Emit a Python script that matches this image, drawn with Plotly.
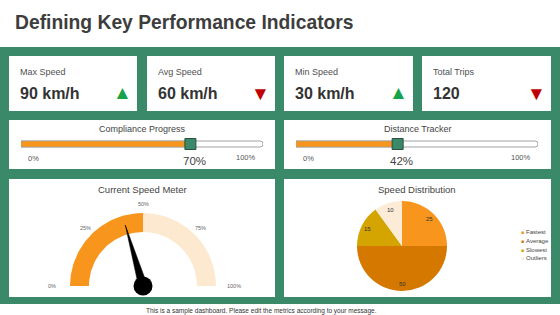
import numpy as np
import plotly.graph_objects as go

W, H = 560, 315

# ---------------- data ----------------
title = "Defining Key Performance Indicators"
kpi_labels = ["Max Speed", "Avg Speed", "Min Speed", "Total Trips"]
kpi_values = ["90 km/h", "60 km/h", "30 km/h", "120"]
kpi_trend = ["up", "down", "up", "down"]

progress_titles = ["Compliance Progress", "Distance Tracker"]
progress_values = [70, 42]

gauge_title = "Current Speed Meter"
gauge_bands = [50, 50]            # filled part, remaining part
gauge_needle = 41
gauge_ticks = [0, 25, 50, 75, 100]

pie_title = "Speed Distribution"
pie_labels = ["Fastest", "Average", "Slowest", "Outliers"]
pie_values = [25, 50, 15, 10]

footer = "This is a sample dashboard. Please edit the metrics according to your message."

# ---------------- style ----------------
GREEN = "#3a8a69"
ORANGE = "#f7951d"
CREAM = "#fde9cf"
pie_colors = ["#f7951d", "#d47800", "#d4a400", "#fcebd7"]
FONT = "Liberation Sans, Arial, sans-serif"
TXT = "#404040"


def px(x):
    return x / W


def py(y):
    return 1 - y / H


fig = go.Figure()
shapes = []
ann = []


def rect(x0, y0, x1, y1, color, line=None):
    shapes.append(dict(type="rect", xref="paper", yref="paper", x0=px(x0), x1=px(x1),
                       y0=py(y1), y1=py(y0), fillcolor=color, layer="below",
                       line=dict(width=0) if line is None else line))


def text(x, y, s, size, color=TXT, anchor="left", bold=False, **kw):
    if bold:
        s = "<b>" + s + "</b>"
    d = dict(x=px(x), y=py(y), xref="paper", yref="paper", text=s, showarrow=False,
             xanchor=anchor, yanchor="middle", font=dict(size=size, color=color, family=FONT))
    d.update(kw)
    ann.append(d)


# background band
rect(0, 47, 560, 304, GREEN)

# title and footer
text(13, 23, title, 19.3, "#3d3d3d", bold=True)
text(261, 311, footer, 6.5, "#333333", anchor="center")

# ---------------- KPI cards ----------------
kpi_x = [(9, 137), (147, 275), (284, 413), (422, 551)]
for (x0, x1), lab, val, tr in zip(kpi_x, kpi_labels, kpi_values, kpi_trend):
    rect(x0, 56, x1, 111, "white")
    text(x0 + 9, 72, lab, 9, "#505050")
    text(x0 + 9, 93, val, 16, "#333333", bold=True)
    if tr == "up":
        text(x1 - 15, 92, "▲", 19, "#17a349", anchor="center")
    else:
        text(x1 - 15, 93, "▼", 19, "#c00000", anchor="center")

# ---------------- progress cards ----------------
prog_cards = [(9, 275), (284, 551)]
prog_bars = [(21, 263), (296, 538)]
for i, ((cx0, cx1), (bx0, bx1), t, v) in enumerate(zip(prog_cards, prog_bars, progress_titles, progress_values)):
    rect(cx0, 120, cx1, 169, "white")
    text((cx0 + cx1) / 2, 129, t, 9, "#444444", anchor="center")
    ax = "" if i == 0 else str(i + 1)
    fig.add_trace(go.Bar(x=[100], y=[0], orientation="h", width=0.5,
                         marker=dict(color="white", line=dict(color="#8a8a8a", width=0.8), cornerradius=3),
                         xaxis="x" + ax, yaxis="y" + ax, showlegend=False, hoverinfo="skip"))
    fig.add_trace(go.Bar(x=[v], y=[0], orientation="h", width=0.5,
                         marker=dict(color=ORANGE, line=dict(color="#a0a0a0", width=0.6), cornerradius=3),
                         xaxis="x" + ax, yaxis="y" + ax, showlegend=False, hoverinfo="skip"))
    fig.add_trace(go.Scatter(x=[v], y=[0], mode="markers", cliponaxis=False,
                             marker=dict(symbol="square", size=11, color="#3a8a6a",
                                         line=dict(color="#2b4f40", width=1)),
                             xaxis="x" + ax, yaxis="y" + ax, showlegend=False, hoverinfo="skip"))
    text(bx0 + 5, 158, "0%", 7.5, "#555555")
    text(bx1 - 5, 157, "100%", 7.5, "#555555", anchor="right")
    ann.append(dict(x=v, xref="x" + ax, y=py(161), yref="paper", text=f"{v}%", showarrow=False,
                    xanchor="center", yanchor="middle", xshift=4,
                    font=dict(size=11.5, color="#444444", family=FONT)))

# ---------------- bottom cards ----------------
rect(9, 179, 275, 297, "white")
rect(284, 179, 551, 297, "white")
text(142, 189, gauge_title, 9.5, "#444444", anchor="center")
text(417, 189, pie_title, 9.5, "#444444", anchor="center")

# gauge
R_OUT, R_IN = 1.0, 0.74
G_CX, G_CY, G_SC = 143, 286, 73   # gauge centre (px) and px per radius unit


def ang(p):
    return np.deg2rad(180 - p * 1.8)


start = 0
for val, col in zip(gauge_bands, [ORANGE, CREAM]):
    t = np.linspace(ang(start), ang(start + val), 60)
    xs = np.concatenate([R_OUT * np.cos(t), R_IN * np.cos(t[::-1])])
    ys = np.concatenate([R_OUT * np.sin(t), R_IN * np.sin(t[::-1])])
    fig.add_trace(go.Scatter(x=xs, y=ys, fill="toself", fillcolor=col, mode="lines",
                             line=dict(width=0, color=col), xaxis="x3", yaxis="y3",
                             showlegend=False, hoverinfo="skip"))
    start += val

a = ang(gauge_needle)
tip = 0.87
hw = 0.06
nx = [tip * np.cos(a), hw * np.cos(a + np.pi / 2), hw * np.cos(a - np.pi / 2), tip * np.cos(a)]
ny = [tip * np.sin(a), hw * np.sin(a + np.pi / 2), hw * np.sin(a - np.pi / 2), tip * np.sin(a)]
fig.add_trace(go.Scatter(x=nx, y=ny, fill="toself", fillcolor="black", mode="lines",
                         line=dict(width=0.5, color="black"), xaxis="x3", yaxis="y3",
                         showlegend=False, hoverinfo="skip"))
fig.add_trace(go.Scatter(x=[0], y=[0], mode="markers", cliponaxis=False,
                         marker=dict(size=19, color="black"), xaxis="x3", yaxis="y3",
                         showlegend=False, hoverinfo="skip"))
for tk in gauge_ticks:
    r = 1.25 if tk in (0, 100) else 1.12
    gx = G_CX + G_SC * r * np.cos(ang(tk))
    gy = G_CY - G_SC * r * np.sin(ang(tk))
    text(gx, gy, f"{tk}%", 5.5, "#666666", anchor="center")

# pie
P_CX, P_CY, P_R = 402, 246, 45
fig.add_trace(go.Pie(labels=pie_labels, values=pie_values, sort=False, direction="clockwise",
                     rotation=0, marker=dict(colors=pie_colors, line=dict(width=0)),
                     textinfo="none",
                     domain=dict(x=[px(P_CX - P_R), px(P_CX + P_R)], y=[py(P_CY + P_R), py(P_CY - P_R)]),
                     showlegend=False, hoverinfo="label+value"))
tot = sum(pie_values)
cum = 0
for v in pie_values:
    mid = np.deg2rad((cum + v / 2) / tot * 360)   # clockwise from 12 o'clock
    cum += v
    lx = P_CX + 0.85 * P_R * np.sin(mid)
    ly = P_CY - 0.85 * P_R * np.cos(mid)
    text(lx, ly, str(v), 6, "#333333", anchor="center")

leg_y = [232, 241, 249.5, 258]
for lab, col, yy in zip(pie_labels, pie_colors, leg_y):
    text(519, yy, "■", 5, col, anchor="left")
    text(524, yy, lab, 6, "#444444", anchor="left")

# ---------------- axes ----------------
hidden = dict(visible=False, showgrid=False, zeroline=False, fixedrange=True)
fig.update_layout(
    xaxis=dict(domain=[px(21), px(263)], range=[0, 100], **hidden),
    yaxis=dict(domain=[py(150), py(138)], range=[-0.5, 0.5], **hidden),
    xaxis2=dict(domain=[px(296), px(538)], range=[0, 100], anchor="y2", **hidden),
    yaxis2=dict(domain=[py(150), py(138)], range=[-0.5, 0.5], anchor="x2", **hidden),
    xaxis3=dict(domain=[px(G_CX - 80), px(G_CX + 80)], range=[-80 / G_SC, 80 / G_SC], anchor="y3", **hidden),
    yaxis3=dict(domain=[py(297), py(200)], range=[-(297 - G_CY) / G_SC, (G_CY - 200) / G_SC], anchor="x3", **hidden),
    barmode="overlay",
    width=W, height=H, margin=dict(l=0, r=0, t=0, b=0),
    paper_bgcolor="white", plot_bgcolor="rgba(0,0,0,0)",
    shapes=shapes, annotations=ann, font=dict(family=FONT),
)

fig.write_html("out.html", config={"displayModeBar": False})
